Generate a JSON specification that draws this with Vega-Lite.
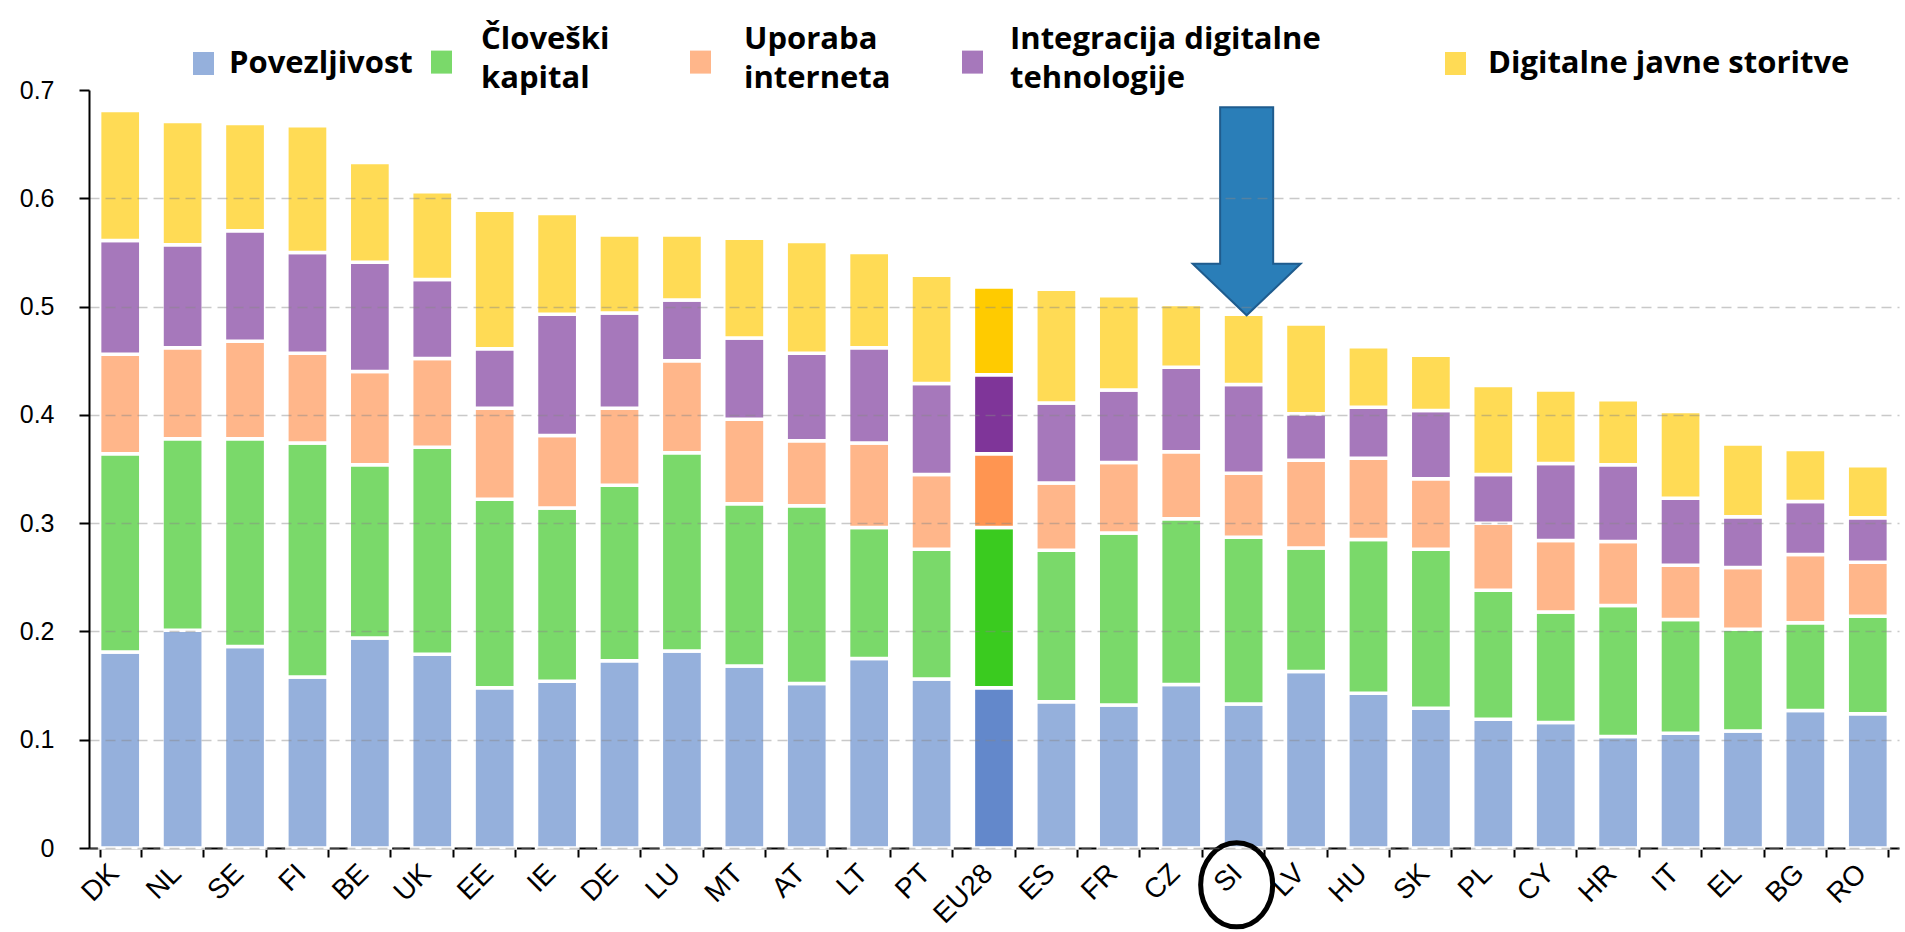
{
  "$schema": "https://vega.github.io/schema/vega-lite/v6.json",
  "width": 1810,
  "height": 758,
  "autosize": {"type": "none"},
  "padding": {"left": 89, "top": 90, "right": 6, "bottom": 84},
  "background": "white",
  "config": {
    "view": {"stroke": null},
    "font": "Liberation Sans",
    "style": {"guide-label": {"lineHeight": 39}},
    "legend": {"orient": "none", "padding": 0, "labelFont": "Open Sans", "labelFontWeight": "bold", "labelFontSize": 31, "labelColor": "#000", "labelLimit": 700, "symbolType": "M-0.913,-1L0.913,-1L0.913,1L-0.913,1Z", "symbolSize": 529, "symbolStrokeWidth": 0, "symbolOpacity": 1}
  },
  "datasets": {
    "bars": [
      {"c":"DK","s":"Povezljivost","i":1,"v":0.181},{"c":"DK","s":"Človeški kapital","i":2,"v":0.183},{"c":"DK","s":"Uporaba interneta","i":3,"v":0.092},{"c":"DK","s":"Integracija digitalne tehnologije","i":4,"v":0.105},{"c":"DK","s":"Digitalne javne storitve","i":5,"v":0.120},
      {"c":"NL","s":"Povezljivost","i":1,"v":0.201},{"c":"NL","s":"Človeški kapital","i":2,"v":0.177},{"c":"NL","s":"Uporaba interneta","i":3,"v":0.084},{"c":"NL","s":"Integracija digitalne tehnologije","i":4,"v":0.095},{"c":"NL","s":"Digitalne javne storitve","i":5,"v":0.114},
      {"c":"SE","s":"Povezljivost","i":1,"v":0.186},{"c":"SE","s":"Človeški kapital","i":2,"v":0.192},{"c":"SE","s":"Uporaba interneta","i":3,"v":0.090},{"c":"SE","s":"Integracija digitalne tehnologije","i":4,"v":0.102},{"c":"SE","s":"Digitalne javne storitve","i":5,"v":0.099},
      {"c":"FI","s":"Povezljivost","i":1,"v":0.158},{"c":"FI","s":"Človeški kapital","i":2,"v":0.216},{"c":"FI","s":"Uporaba interneta","i":3,"v":0.083},{"c":"FI","s":"Integracija digitalne tehnologije","i":4,"v":0.093},{"c":"FI","s":"Digitalne javne storitve","i":5,"v":0.117},
      {"c":"BE","s":"Povezljivost","i":1,"v":0.194},{"c":"BE","s":"Človeški kapital","i":2,"v":0.160},{"c":"BE","s":"Uporaba interneta","i":3,"v":0.086},{"c":"BE","s":"Integracija digitalne tehnologije","i":4,"v":0.101},{"c":"BE","s":"Digitalne javne storitve","i":5,"v":0.092},
      {"c":"UK","s":"Povezljivost","i":1,"v":0.179},{"c":"UK","s":"Človeški kapital","i":2,"v":0.191},{"c":"UK","s":"Uporaba interneta","i":3,"v":0.082},{"c":"UK","s":"Integracija digitalne tehnologije","i":4,"v":0.073},{"c":"UK","s":"Digitalne javne storitve","i":5,"v":0.081},
      {"c":"EE","s":"Povezljivost","i":1,"v":0.148},{"c":"EE","s":"Človeški kapital","i":2,"v":0.174},{"c":"EE","s":"Uporaba interneta","i":3,"v":0.084},{"c":"EE","s":"Integracija digitalne tehnologije","i":4,"v":0.055},{"c":"EE","s":"Digitalne javne storitve","i":5,"v":0.128},
      {"c":"IE","s":"Povezljivost","i":1,"v":0.154},{"c":"IE","s":"Človeški kapital","i":2,"v":0.160},{"c":"IE","s":"Uporaba interneta","i":3,"v":0.067},{"c":"IE","s":"Integracija digitalne tehnologije","i":4,"v":0.112},{"c":"IE","s":"Digitalne javne storitve","i":5,"v":0.093},
      {"c":"DE","s":"Povezljivost","i":1,"v":0.173},{"c":"DE","s":"Človeški kapital","i":2,"v":0.162},{"c":"DE","s":"Uporaba interneta","i":3,"v":0.071},{"c":"DE","s":"Integracija digitalne tehnologije","i":4,"v":0.088},{"c":"DE","s":"Digitalne javne storitve","i":5,"v":0.072},
      {"c":"LU","s":"Povezljivost","i":1,"v":0.182},{"c":"LU","s":"Človeški kapital","i":2,"v":0.183},{"c":"LU","s":"Uporaba interneta","i":3,"v":0.085},{"c":"LU","s":"Integracija digitalne tehnologije","i":4,"v":0.056},{"c":"LU","s":"Digitalne javne storitve","i":5,"v":0.060},
      {"c":"MT","s":"Povezljivost","i":1,"v":0.168},{"c":"MT","s":"Človeški kapital","i":2,"v":0.150},{"c":"MT","s":"Uporaba interneta","i":3,"v":0.078},{"c":"MT","s":"Integracija digitalne tehnologije","i":4,"v":0.075},{"c":"MT","s":"Digitalne javne storitve","i":5,"v":0.092},
      {"c":"AT","s":"Povezljivost","i":1,"v":0.152},{"c":"AT","s":"Človeški kapital","i":2,"v":0.164},{"c":"AT","s":"Uporaba interneta","i":3,"v":0.060},{"c":"AT","s":"Integracija digitalne tehnologije","i":4,"v":0.081},{"c":"AT","s":"Digitalne javne storitve","i":5,"v":0.103},
      {"c":"LT","s":"Povezljivost","i":1,"v":0.175},{"c":"LT","s":"Človeški kapital","i":2,"v":0.121},{"c":"LT","s":"Uporaba interneta","i":3,"v":0.078},{"c":"LT","s":"Integracija digitalne tehnologije","i":4,"v":0.088},{"c":"LT","s":"Digitalne javne storitve","i":5,"v":0.088},
      {"c":"PT","s":"Povezljivost","i":1,"v":0.156},{"c":"PT","s":"Človeški kapital","i":2,"v":0.120},{"c":"PT","s":"Uporaba interneta","i":3,"v":0.069},{"c":"PT","s":"Integracija digitalne tehnologije","i":4,"v":0.084},{"c":"PT","s":"Digitalne javne storitve","i":5,"v":0.100},
      {"c":"EU28","s":"Povezljivost","i":1,"v":0.148},{"c":"EU28","s":"Človeški kapital","i":2,"v":0.148},{"c":"EU28","s":"Uporaba interneta","i":3,"v":0.068},{"c":"EU28","s":"Integracija digitalne tehnologije","i":4,"v":0.073},{"c":"EU28","s":"Digitalne javne storitve","i":5,"v":0.081},
      {"c":"ES","s":"Povezljivost","i":1,"v":0.135},{"c":"ES","s":"Človeški kapital","i":2,"v":0.140},{"c":"ES","s":"Uporaba interneta","i":3,"v":0.062},{"c":"ES","s":"Integracija digitalne tehnologije","i":4,"v":0.074},{"c":"ES","s":"Digitalne javne storitve","i":5,"v":0.105},
      {"c":"FR","s":"Povezljivost","i":1,"v":0.132},{"c":"FR","s":"Človeški kapital","i":2,"v":0.159},{"c":"FR","s":"Uporaba interneta","i":3,"v":0.065},{"c":"FR","s":"Integracija digitalne tehnologije","i":4,"v":0.067},{"c":"FR","s":"Digitalne javne storitve","i":5,"v":0.087},
      {"c":"CZ","s":"Povezljivost","i":1,"v":0.151},{"c":"CZ","s":"Človeški kapital","i":2,"v":0.153},{"c":"CZ","s":"Uporaba interneta","i":3,"v":0.062},{"c":"CZ","s":"Integracija digitalne tehnologije","i":4,"v":0.078},{"c":"CZ","s":"Digitalne javne storitve","i":5,"v":0.058},
      {"c":"SI","s":"Povezljivost","i":1,"v":0.133},{"c":"SI","s":"Človeški kapital","i":2,"v":0.154},{"c":"SI","s":"Uporaba interneta","i":3,"v":0.059},{"c":"SI","s":"Integracija digitalne tehnologije","i":4,"v":0.082},{"c":"SI","s":"Digitalne javne storitve","i":5,"v":0.065},
      {"c":"LV","s":"Povezljivost","i":1,"v":0.163},{"c":"LV","s":"Človeški kapital","i":2,"v":0.114},{"c":"LV","s":"Uporaba interneta","i":3,"v":0.081},{"c":"LV","s":"Integracija digitalne tehnologije","i":4,"v":0.043},{"c":"LV","s":"Digitalne javne storitve","i":5,"v":0.083},
      {"c":"HU","s":"Povezljivost","i":1,"v":0.143},{"c":"HU","s":"Človeški kapital","i":2,"v":0.142},{"c":"HU","s":"Uporaba interneta","i":3,"v":0.075},{"c":"HU","s":"Integracija digitalne tehnologije","i":4,"v":0.047},{"c":"HU","s":"Digitalne javne storitve","i":5,"v":0.056},
      {"c":"SK","s":"Povezljivost","i":1,"v":0.129},{"c":"SK","s":"Človeški kapital","i":2,"v":0.147},{"c":"SK","s":"Uporaba interneta","i":3,"v":0.065},{"c":"SK","s":"Integracija digitalne tehnologije","i":4,"v":0.063},{"c":"SK","s":"Digitalne javne storitve","i":5,"v":0.051},
      {"c":"PL","s":"Povezljivost","i":1,"v":0.119},{"c":"PL","s":"Človeški kapital","i":2,"v":0.119},{"c":"PL","s":"Uporaba interneta","i":3,"v":0.062},{"c":"PL","s":"Integracija digitalne tehnologije","i":4,"v":0.045},{"c":"PL","s":"Digitalne javne storitve","i":5,"v":0.082},
      {"c":"CY","s":"Povezljivost","i":1,"v":0.116},{"c":"CY","s":"Človeški kapital","i":2,"v":0.102},{"c":"CY","s":"Uporaba interneta","i":3,"v":0.066},{"c":"CY","s":"Integracija digitalne tehnologije","i":4,"v":0.071},{"c":"CY","s":"Digitalne javne storitve","i":5,"v":0.068},
      {"c":"HR","s":"Povezljivost","i":1,"v":0.103},{"c":"HR","s":"Človeški kapital","i":2,"v":0.121},{"c":"HR","s":"Uporaba interneta","i":3,"v":0.059},{"c":"HR","s":"Integracija digitalne tehnologije","i":4,"v":0.071},{"c":"HR","s":"Digitalne javne storitve","i":5,"v":0.060},
      {"c":"IT","s":"Povezljivost","i":1,"v":0.106},{"c":"IT","s":"Človeški kapital","i":2,"v":0.105},{"c":"IT","s":"Uporaba interneta","i":3,"v":0.050},{"c":"IT","s":"Integracija digitalne tehnologije","i":4,"v":0.062},{"c":"IT","s":"Digitalne javne storitve","i":5,"v":0.080},
      {"c":"EL","s":"Povezljivost","i":1,"v":0.108},{"c":"EL","s":"Človeški kapital","i":2,"v":0.094},{"c":"EL","s":"Uporaba interneta","i":3,"v":0.057},{"c":"EL","s":"Integracija digitalne tehnologije","i":4,"v":0.047},{"c":"EL","s":"Digitalne javne storitve","i":5,"v":0.067},
      {"c":"BG","s":"Povezljivost","i":1,"v":0.127},{"c":"BG","s":"Človeški kapital","i":2,"v":0.081},{"c":"BG","s":"Uporaba interneta","i":3,"v":0.063},{"c":"BG","s":"Integracija digitalne tehnologije","i":4,"v":0.049},{"c":"BG","s":"Digitalne javne storitve","i":5,"v":0.048},
      {"c":"RO","s":"Povezljivost","i":1,"v":0.124},{"c":"RO","s":"Človeški kapital","i":2,"v":0.090},{"c":"RO","s":"Uporaba interneta","i":3,"v":0.050},{"c":"RO","s":"Integracija digitalne tehnologije","i":4,"v":0.041},{"c":"RO","s":"Digitalne javne storitve","i":5,"v":0.048}
    ],
    "arrow": [{"c": "SI", "v": 0.588}],
    "ring": [{"c": "SI", "v": -0.034}]
  },
  "layer": [
    {
      "data": {"name": "bars"},
      "transform": [
        {"stack": "v", "groupby": ["c"], "sort": [{"field": "i", "order": "ascending"}], "as": ["y0", "y1"]},
        {"filter": "datum.c !== 'EU28' && datum.s === 'Povezljivost'"}
      ],
      "mark": {"type": "bar", "stroke": "white", "strokeWidth": 3.5},
      "encoding": {
        "x": {
          "field": "c", "type": "nominal",
          "scale": {"domain": ["DK","NL","SE","FI","BE","UK","EE","IE","DE","LU","MT","AT","LT","PT","EU28","ES","FR","CZ","SI","LV","HU","SK","PL","CY","HR","IT","EL","BG","RO"], "paddingInner": 0.34, "paddingOuter": 0.17},
          "axis": {"title": null, "labelAngle": -45, "labelAlign": "right", "labelBaseline": "middle", "labelFont": "Liberation Sans", "labelFontSize": 28, "labelColor": "#000", "labelPadding": 12, "labelOffset": -6, "tickBand": "extent", "tickSize": 9, "tickWidth": 2, "tickColor": "#000", "domainColor": "#000", "domainWidth": 2, "grid": false, "labelOverlap": false}
        },
        "y": {
          "field": "y0", "type": "quantitative",
          "scale": {"domain": [0, 0.7], "nice": false},
          "axis": {"title": null, "values": [0, 0.1, 0.2, 0.3, 0.4, 0.5, 0.6, 0.7], "labelExpr": "datum.value === 0 ? '0' : format(datum.value, '.1f')", "labelFont": "Liberation Sans", "labelFontSize": 25, "labelColor": "#000", "labelPadding": 25, "tickSize": 10, "tickWidth": 2, "tickColor": "#000", "domainColor": "#000", "domainWidth": 2, "grid": true, "gridColor": "#888888", "gridDash": [10, 6], "gridWidth": 1.5, "gridOpacity": {"condition": {"test": "datum.value > 0.65", "value": 0}, "value": 0.45}, "zindex": 1}
        },
        "y2": {"field": "y1"},
        "color": {
          "field": "s", "type": "nominal",
          "scale": {"domain": ["Povezljivost"], "range": ["#95B0DC"]},
          "legend": {"title": null, "legendX": 99, "legendY": -42, "labelOffset": 10}
        }
      }
    },
    {
      "data": {"name": "bars"},
      "transform": [
        {"stack": "v", "groupby": ["c"], "sort": [{"field": "i", "order": "ascending"}], "as": ["y0", "y1"]},
        {"filter": "datum.c !== 'EU28' && datum.s === 'Človeški kapital'"}
      ],
      "mark": {"type": "bar", "stroke": "white", "strokeWidth": 3.5},
      "encoding": {
        "x": {"field": "c", "type": "nominal"},
        "y": {"field": "y0", "type": "quantitative"},
        "y2": {"field": "y1"},
        "color": {
          "field": "s", "type": "nominal",
          "scale": {"domain": ["Človeški kapital"], "range": ["#7AD96A"]},
          "legend": {"title": null, "legendX": 337, "legendY": -81, "labelOffset": 24, "labelBaseline": "top", "symbolType": "M-0.913,2.27L0.913,2.27L0.913,4.27L-0.913,4.27Z", "labelExpr": "['Človeški', 'kapital']"}
        }
      }
    },
    {
      "data": {"name": "bars"},
      "transform": [
        {"stack": "v", "groupby": ["c"], "sort": [{"field": "i", "order": "ascending"}], "as": ["y0", "y1"]},
        {"filter": "datum.c !== 'EU28' && datum.s === 'Uporaba interneta'"}
      ],
      "mark": {"type": "bar", "stroke": "white", "strokeWidth": 3.5},
      "encoding": {
        "x": {"field": "c", "type": "nominal"},
        "y": {"field": "y0", "type": "quantitative"},
        "y2": {"field": "y1"},
        "color": {
          "field": "s", "type": "nominal",
          "scale": {"domain": ["Uporaba interneta"], "range": ["#FFB68A"]},
          "legend": {"title": null, "legendX": 596, "legendY": -81, "labelOffset": 28, "labelBaseline": "top", "symbolType": "M-0.913,2.27L0.913,2.27L0.913,4.27L-0.913,4.27Z", "labelExpr": "['Uporaba', 'interneta']"}
        }
      }
    },
    {
      "data": {"name": "bars"},
      "transform": [
        {"stack": "v", "groupby": ["c"], "sort": [{"field": "i", "order": "ascending"}], "as": ["y0", "y1"]},
        {"filter": "datum.c !== 'EU28' && datum.s === 'Integracija digitalne tehnologije'"}
      ],
      "mark": {"type": "bar", "stroke": "white", "strokeWidth": 3.5},
      "encoding": {
        "x": {"field": "c", "type": "nominal"},
        "y": {"field": "y0", "type": "quantitative"},
        "y2": {"field": "y1"},
        "color": {
          "field": "s", "type": "nominal",
          "scale": {"domain": ["Integracija digitalne tehnologije"], "range": ["#A678BB"]},
          "legend": {"title": null, "legendX": 868, "legendY": -81, "labelOffset": 22, "labelBaseline": "top", "symbolType": "M-0.913,2.27L0.913,2.27L0.913,4.27L-0.913,4.27Z", "labelExpr": "['Integracija digitalne', 'tehnologije']"}
        }
      }
    },
    {
      "data": {"name": "bars"},
      "transform": [
        {"stack": "v", "groupby": ["c"], "sort": [{"field": "i", "order": "ascending"}], "as": ["y0", "y1"]},
        {"filter": "datum.c !== 'EU28' && datum.s === 'Digitalne javne storitve'"}
      ],
      "mark": {"type": "bar", "stroke": "white", "strokeWidth": 3.5},
      "encoding": {
        "x": {"field": "c", "type": "nominal"},
        "y": {"field": "y0", "type": "quantitative"},
        "y2": {"field": "y1"},
        "color": {
          "field": "s", "type": "nominal",
          "scale": {"domain": ["Digitalne javne storitve"], "range": ["#FFDB55"]},
          "legend": {"title": null, "legendX": 1351, "legendY": -42, "labelOffset": 17}
        }
      }
    },
    {
      "data": {"name": "bars"},
      "transform": [
        {"stack": "v", "groupby": ["c"], "sort": [{"field": "i", "order": "ascending"}], "as": ["y0", "y1"]},
        {"filter": "datum.c === 'EU28'"}
      ],
      "mark": {"type": "bar", "stroke": "white", "strokeWidth": 3.5},
      "encoding": {
        "x": {"field": "c", "type": "nominal"},
        "y": {"field": "y0", "type": "quantitative"},
        "y2": {"field": "y1"},
        "color": {
          "field": "s", "type": "nominal",
          "scale": {"domain": ["Povezljivost", "Človeški kapital", "Uporaba interneta", "Integracija digitalne tehnologije", "Digitalne javne storitve"], "range": ["#6388CB", "#3ACB1F", "#FF9551", "#7F3599", "#FFCB00"]},
          "legend": null
        }
      }
    },
    {
      "data": {"name": "arrow"},
      "mark": {"type": "point", "shape": "M-0.255,-1L0.255,-1L0.255,0.505L0.519,0.505L0,1L-0.519,0.505L-0.255,0.505Z", "size": 43264, "filled": true, "fill": "#2A7EB8", "stroke": "#1F5C8E", "strokeWidth": 2, "opacity": 1, "xOffset": 3},
      "encoding": {
        "x": {"field": "c", "type": "nominal"},
        "y": {"field": "v", "type": "quantitative"}
      }
    },
    {
      "data": {"name": "ring"},
      "mark": {"type": "point", "shape": "M-0.857 0A0.857 1 0 1 0 0.857 0A0.857 1 0 1 0 -0.857 0Z", "size": 7056, "filled": false, "fill": null, "stroke": "#000", "strokeWidth": 5, "opacity": 1, "xOffset": -7},
      "encoding": {
        "x": {"field": "c", "type": "nominal"},
        "y": {"field": "v", "type": "quantitative"}
      }
    }
  ],
  "resolve": {"scale": {"color": "independent"}}
}
